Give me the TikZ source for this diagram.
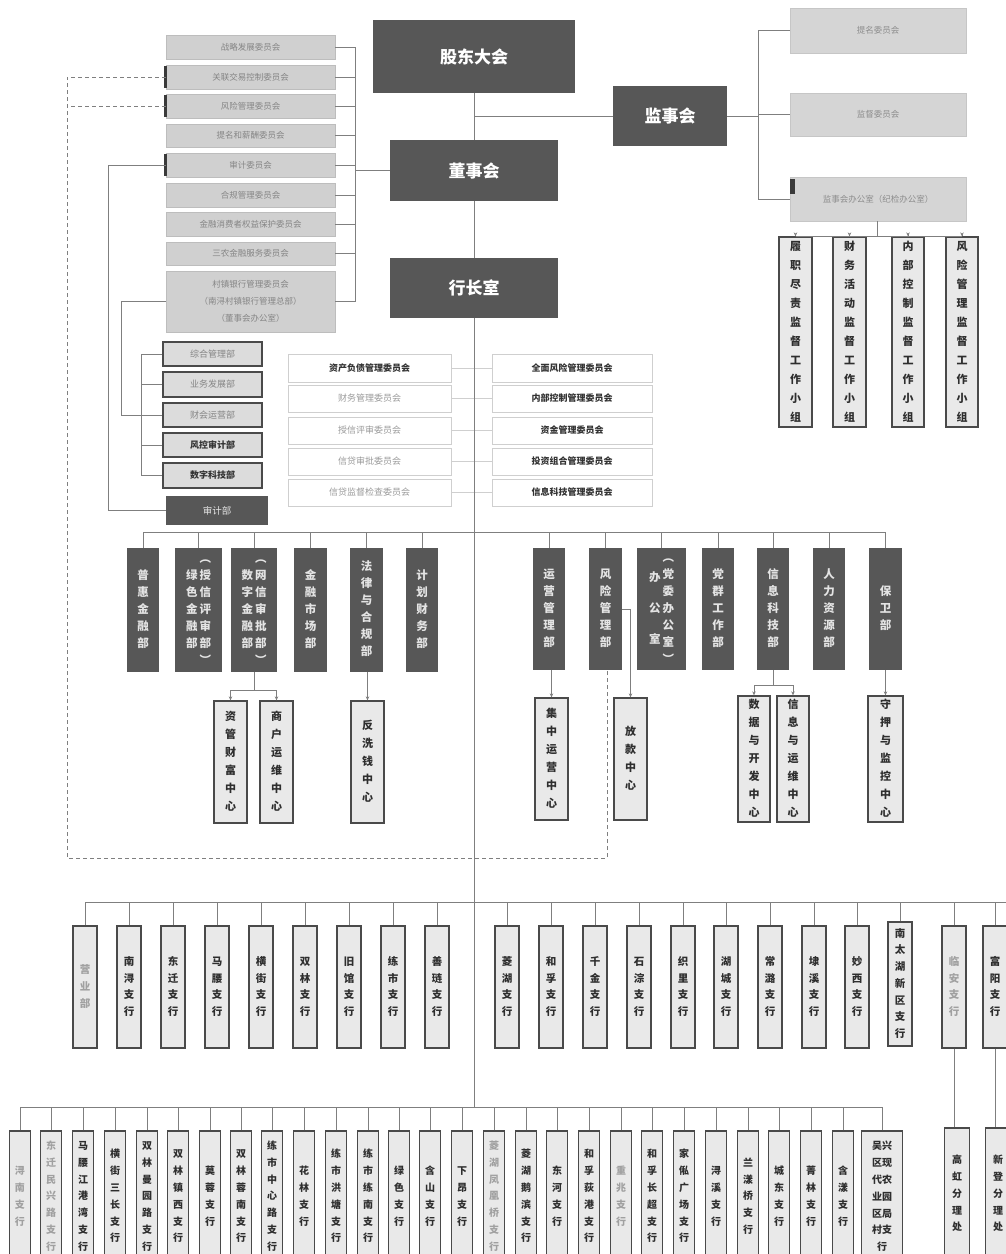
\documentclass[tikz,border=0pt]{standalone}
\usepackage{fontspec}
\setmainfont{Noto Sans CJK SC}
\usetikzlibrary{arrows.meta}
\definecolor{dk}{HTML}{575757}
\definecolor{dpt}{HTML}{E4E4E4}
\definecolor{cmf}{HTML}{D0D0D0}
\definecolor{cmb}{HTML}{BDBDBD}
\definecolor{cmt}{HTML}{858585}
\definecolor{mgf}{HTML}{DCDCDC}
\definecolor{bxb}{HTML}{4A4A4A}
\definecolor{mcb}{HTML}{CFCFCF}
\definecolor{mct}{HTML}{9A9A9A}
\definecolor{mcd}{HTML}{333333}
\definecolor{scf}{HTML}{E9E9E9}
\definecolor{sct}{HTML}{2E2E2E}
\definecolor{fdt}{HTML}{A0A0A0}
\definecolor{lnc}{HTML}{7F7F7F}
\definecolor{mkc}{HTML}{3A3A3A}
\definecolor{tbf}{HTML}{D5D5D5}
\definecolor{tbb}{HTML}{C6C6C6}
\definecolor{tbt}{HTML}{8C8C8C}
\ExplSyntaxOn
\tl_new:N \l_vt_tl
\NewDocumentCommand \vt { m }
 {
  \tl_clear:N \l_vt_tl
  \tl_map_inline:nn {#1}
   {
    \tl_if_empty:NF \l_vt_tl { \tl_put_right:Nn \l_vt_tl { \\ } }
    \tl_put_right:Nn \l_vt_tl { ##1 }
   }
  \begin{tabular}{@{}c@{}} \l_vt_tl \end{tabular}
 }
\ExplSyntaxOff
\newcommand\bx[7][]{\node[#1,minimum width={(#5-#3)*1pt},minimum height={(#6-#4)*1pt}] (#2) at ({(#3+#5)/2},{(#4+#6)/2}) {#7};}
\tikzset{
 conn/.style={draw=lnc, line width=0.8pt},
 arrw/.style={-{Stealth[length=4pt,width=3.5pt]}},
 dashc/.style={draw=lnc, line width=0.8pt, dash pattern=on 4pt off 3pt},
 hbox/.style={fill=dk, draw=none, text=white, font=\fontsize{17}{20}\selectfont\bfseries, inner sep=0pt},
 cbox/.style={fill=cmf, draw=cmb, line width=0.6pt, text=cmt, font=\fontsize{8.5}{17}\selectfont, inner sep=0pt, align=center},
 tbox/.style={fill=tbf, draw=tbb, line width=0.6pt, text=tbt, font=\fontsize{8.5}{10}\selectfont, inner sep=0pt},
 mbox/.style={fill=mgf, draw=bxb, line width=1.2pt, text=cmt, font=\fontsize{9}{11}\selectfont, inner sep=0pt},
 qbox/.style={fill=white, draw=mcb, line width=0.6pt, text=mct, font=\fontsize{9}{11}\selectfont, inner sep=0pt},
 qdark/.style={text=mcd, font=\fontsize{9}{11}\selectfont\bfseries},
 dbox/.style={fill=dk, draw=none, text=dpt, font=\fontsize{11.5}{17}\selectfont\bfseries, inner sep=0pt},
 sbox/.style={fill=scf, draw=bxb, line width=1.3pt, text=sct, font=\fontsize{11}{18}\selectfont\bfseries, inner sep=0pt},
 gbox/.style={sbox, font=\fontsize{11}{19}\selectfont\bfseries},
 brA/.style={sbox, font=\fontsize{10.5}{16.7}\selectfont\bfseries},
 brB/.style={sbox, font=\fontsize{10}{16.8}\selectfont\bfseries},
 faded/.style={text=fdt},
 mkr/.style={fill=mkc, draw=none, inner sep=0pt},
}
\begin{document}
\begin{tikzpicture}[x=1pt,y=-1pt]
\fill[white] (0,0) rectangle (1006,1254);
\useasboundingbox (0,0) rectangle (1006,1254);
% ---------- top ----------
\bx[hbox]{gd}{373}{20}{575}{93}{股东大会}
\bx[hbox]{dsh}{390}{140}{558}{201}{董事会}
\bx[hbox]{hzs}{390}{258}{558}{318}{行长室}
\bx[hbox]{jsh}{613}{86}{727}{146}{监事会}
\coordinate (sp) at (474,0);
\draw[conn] (gd.south) -- (dsh.north);
\draw[conn] (dsh.south) -- (hzs.north);
\draw[conn] (gd.south |- jsh.west) -- (jsh.west);
% ---------- board committees ----------
\bx[cbox]{c1}{166}{35}{335}{59}{战略发展委员会}
\bx[cbox]{c2}{166}{65}{335}{89}{关联交易控制委员会}
\bx[cbox]{c3}{166}{94}{335}{118}{风险管理委员会}
\bx[cbox]{c4}{166}{124}{335}{147}{提名和薪酬委员会}
\bx[cbox]{c5}{166}{153}{335}{177}{审计委员会}
\bx[cbox]{c6}{166}{183}{335}{207}{合规管理委员会}
\bx[cbox]{c7}{166}{212}{335}{236}{金融消费者权益保护委员会}
\bx[cbox]{c8}{166}{242}{335}{265}{三农金融服务委员会}
\bx[cbox]{c9}{166}{271}{335}{332}{村镇银行管理委员会\\（南浔村镇银行管理总部）\\（董事会办公室）}
\node[mkr,minimum width=3pt,minimum height=22pt] (k2) at (c2.west) {};
\node[mkr,minimum width=3pt,minimum height=22pt] (k3) at (c3.west) {};
\node[mkr,minimum width=3pt,minimum height=22pt] (k5) at (c5.west) {};
\coordinate (lb) at (355,0);
\draw[conn] (c1.east) -| (lb |- c9.east) -- (c9.east);
\foreach \n in {c2,c3,c4,c5,c6,c7,c8}{\draw[conn] (\n.east) -- (\n.east -| lb);}
\draw[conn] (dsh.west) -- (dsh.west -| lb);
% ---------- supervisory ----------
\bx[tbox]{tm}{790}{8}{966}{53}{提名委员会}
\bx[tbox]{jd}{790}{93}{966}{136}{监督委员会}
\bx[tbox]{jb}{790}{177}{966}{221}{监事会办公室（纪检办公室）}
\node[mkr,minimum width=5pt,minimum height=15pt] (kj) at (792,186) {};
\coordinate (rb) at (758,0);
\draw[conn] (tm.west) -| (rb |- jb.west) -- (jb.west);
\draw[conn] (jd.west) -- (jd.west -| rb);
\draw[conn] (jsh.east) -- (jsh.east -| rb);
\bx[gbox]{g1}{779}{247}{812}{417}{\vt{履职尽责监督工作小组}}
\bx[gbox]{g2}{833}{247}{866}{417}{\vt{财务活动监督工作小组}}
\bx[gbox]{g3}{892}{247}{924}{417}{\vt{内部控制监督工作小组}}
\bx[gbox]{g4}{946}{247}{978}{417}{\vt{风险管理监督工作小组}}
\coordinate (gy) at (0,236);
\draw[conn] (jb.south -| 877,0) -- (877,236);
\draw[conn] (g1.north |- gy) -- (g4.north |- gy);
\foreach \n in {g1,g2,g3,g4}{\draw[conn,arrw] (\n.north |- gy) -- (\n.north);}
% ---------- management ----------
\bx[mbox]{m1}{163}{342}{262}{366}{综合管理部}
\bx[mbox]{m2}{163}{372}{262}{397}{业务发展部}
\bx[mbox]{m3}{163}{403}{262}{427}{财会运营部}
\bx[mbox,text=mcd,font=\fontsize{9}{11}\selectfont\bfseries]{m4}{163}{433}{262}{457}{风控审计部}
\bx[mbox,text=mcd,font=\fontsize{9}{11}\selectfont\bfseries]{m5}{163}{463}{262}{488}{数字科技部}
\bx[hbox,font=\fontsize{9.5}{11}\selectfont,text=dpt]{sjb}{166}{496}{268}{525}{审计部}
\coordinate (mb) at (141,0);
\draw[conn] (m1.west) -| (mb |- m5.west) -- (m5.west);
\foreach \n in {m2,m3,m4}{\draw[conn] (\n.west) -- (\n.west -| mb);}
\coordinate (cz) at (121,0);
\draw[conn] (c9.west) -| (cz |- m3.west) -- (m3.west);
\coordinate (sjx) at (108,0);
\draw[conn] (c5.west) -| (sjx |- sjb.west) -- (sjb.west);
% ---------- executive committees ----------
\bx[qbox,qdark]{q1}{288}{354}{451}{382}{资产负债管理委员会}
\bx[qbox]{q2}{288}{385}{451}{412}{财务管理委员会}
\bx[qbox]{q3}{288}{417}{451}{444}{授信评审委员会}
\bx[qbox]{q4}{288}{448}{451}{475}{信贷审批委员会}
\bx[qbox]{q5}{288}{479}{451}{506}{信贷监督检查委员会}
\bx[qbox,qdark]{r1}{492}{354}{652}{382}{全面风险管理委员会}
\bx[qbox,qdark]{r2}{492}{385}{652}{412}{内部控制管理委员会}
\bx[qbox,qdark]{r3}{492}{417}{652}{444}{资金管理委员会}
\bx[qbox,qdark]{r4}{492}{448}{652}{475}{投资组合管理委员会}
\bx[qbox,qdark]{r5}{492}{479}{652}{506}{信息科技管理委员会}
\foreach \n in {q1,q2,q3,q4,q5}{\draw[draw=mcb,line width=0.6pt] (\n.east) -- (\n.east -| sp);}
\foreach \n in {r1,r2,r3,r4,r5}{\draw[draw=mcb,line width=0.6pt] (\n.west) -- (\n.west -| sp);}
% ---------- departments ----------
\bx[dbox]{d1}{127}{548}{159}{672}{\vt{普惠金融部}}
\bx[dbox]{d2}{175}{548}{222}{672}{\vt{绿色金融部}\hspace{2pt}\vt{︵授信评审部︶}}
\bx[dbox]{d3}{231}{548}{277}{672}{\vt{数字金融部}\hspace{2pt}\vt{︵网信审批部︶}}
\bx[dbox]{d4}{294}{548}{327}{672}{\vt{金融市场部}}
\bx[dbox]{d5}{350}{548}{383}{672}{\vt{法律与合规部}}
\bx[dbox]{d6}{406}{548}{438}{672}{\vt{计划财务部}}
\bx[dbox]{d7}{533}{548}{565}{670}{\vt{运营管理部}}
\bx[dbox]{d8}{589}{548}{622}{670}{\vt{风险管理部}}
\bx[dbox]{d9}{637}{548}{686}{670}{\begin{tabular}{@{}c@{}}办\\[14pt]公\\[14pt]室\end{tabular}\hspace{2pt}\vt{︵党委办公室︶}}
\bx[dbox]{d10}{702}{548}{734}{670}{\vt{党群工作部}}
\bx[dbox]{d11}{757}{548}{789}{670}{\vt{信息科技部}}
\bx[dbox]{d12}{813}{548}{845}{670}{\vt{人力资源部}}
\bx[dbox]{d13}{869}{548}{902}{670}{\vt{保卫部}}
\coordinate (dy) at (0,532);
\draw[conn] (d1.north |- dy) -- (d13.north |- dy);
\foreach \n in {d1,d2,d3,d4,d5,d6,d7,d8,d9,d10,d11,d12,d13}{\draw[conn] (\n.north |- dy) -- (\n.north);}
\draw[conn] (hzs.south) -- (sp |- 0,1107);
% ---------- centers ----------
\bx[sbox]{s1}{214}{701}{247}{823}{\vt{资管财富中心}}
\bx[sbox]{s2}{260}{701}{293}{823}{\vt{商户运维中心}}
\bx[sbox]{s3}{351}{701}{384}{823}{\vt{反洗钱中心}}
\bx[sbox]{s4}{535}{698}{568}{820}{\vt{集中运营中心}}
\bx[sbox]{s5}{614}{698}{647}{820}{\vt{放款中心}}
\bx[sbox]{s6}{738}{698}{770}{820}{\vt{数据与开发中心}}
\bx[sbox]{s7}{777}{698}{809}{820}{\vt{信息与运维中心}}
\bx[sbox]{s8}{868}{698}{903}{820}{\vt{守押与监控中心}}
\coordinate (ya) at (0,690);
\draw[conn] (d3.south) -- (d3.south |- ya);
\draw[conn] (s1.north |- ya) -- (s2.north |- ya);
\draw[conn,arrw] (s1.north |- ya) -- (s1.north);
\draw[conn,arrw] (s2.north |- ya) -- (s2.north);
\draw[conn,arrw] (s3.north |- d5.south) -- (s3.north);
\draw[conn,arrw] (s4.north |- d7.south) -- (s4.north);
\draw[conn,arrw] (d8.east) -| (s5.north);
\coordinate (yb) at (0,685);
\draw[conn] (d11.south) -- (d11.south |- yb);
\draw[conn] (s6.north |- yb) -- (s7.north |- yb);
\draw[conn,arrw] (s6.north |- yb) -- (s6.north);
\draw[conn,arrw] (s7.north |- yb) -- (s7.north);
\draw[conn,arrw] (s8.north |- d13.south) -- (s8.north);
% ---------- dashed line ----------
\coordinate (dl) at (67,858);
\draw[dashc] (c2.west) -- (c2.west -| dl) -- (dl) -| ([xshift=2pt]d8.south);
\draw[dashc] (c3.west) -- (c3.west -| dl);
% ---------- branches row 1 ----------
\coordinate (ba) at (0,902);
\foreach \cx/\nm/\tx/\st in {85/a1/营业部/faded,129/a2/南浔支行/,173/a3/东迁支行/,217/a4/马腰支行/,261/a5/横街支行/,305/a6/双林支行/,349/a7/旧馆支行/,393/a8/练市支行/,437/a9/善琏支行/,507/a10/菱湖支行/,551/a11/和孚支行/,595/a12/千金支行/,639/a13/石淙支行/,683/a14/织里支行/,726/a15/湖城支行/,770/a16/常潞支行/,814/a17/埭溪支行/,857/a18/妙西支行/,954/a20/临安支行/faded,995/a21/富阳支行/}{
  \node[brA,\st,minimum width=24pt,minimum height=122pt] (\nm) at (\cx,987) {\expandafter\vt\expandafter{\tx}};
  \draw[conn] (\nm.north) -- (\nm.north |- ba);
}
\node[brA,minimum width=24pt,minimum height=124pt] (a19) at (900,984) {\vt{南太湖新区支行}};
\draw[conn] (a19.north) -- (a19.north |- ba);
\draw[conn] (a1.north |- ba) -- ([xshift=12pt]a21.north |- ba);
% ---------- branches row 2 ----------
\coordinate (bb) at (0,1107);
\foreach \cx/\nm/\tx/\st in {20/b1/浔南支行/faded,51/b2/东迁民兴路支行/faded,83/b3/马腰江港湾支行/,115/b4/横街三长支行/,147/b5/双林曼园路支行/,178/b6/双林镇西支行/,210/b7/莫蓉支行/,241/b8/双林蓉南支行/,272/b9/练市中心路支行/,304/b10/花林支行/,336/b11/练市洪塘支行/,368/b12/练市练南支行/,399/b13/绿色支行/,430/b14/含山支行/,462/b15/下昂支行/,494/b16/菱湖凤凰桥支行/faded,526/b17/菱湖鹅滨支行/,557/b18/东河支行/,589/b19/和孚荻港支行/,621/b20/重兆支行/faded,652/b21/和孚长超支行/,684/b22/家俬广场支行/,716/b23/浔溪支行/,748/b24/兰漾桥支行/,779/b25/城东支行/,811/b26/菁林支行/,843/b27/含漾支行/}{
  \node[brB,\st,minimum width=21pt,minimum height=131pt] (\nm) at (\cx,1196.5) {\expandafter\vt\expandafter{\tx}};
  \draw[conn] (\nm.north) -- (\nm.north |- bb);
}
\node[brB,minimum width=41pt,minimum height=131pt,align=center] (b28) at (882,1196.5) {吴兴\\区现\\代农\\业园\\区局\\村支\\行};
\draw[conn] (b28.north) -- (b28.north |- bb);
\draw[conn] (b1.north |- bb) -- (b28.north |- bb);
% ---------- sub-branches ----------
\node[brB,minimum width=25pt,minimum height=132pt] (h1) at (957,1194) {\vt{高虹分理处}};
\node[brB,minimum width=25pt,minimum height=132pt] (h2) at (998,1194) {\vt{新登分理处}};
\draw[conn] (a20.south) -- (a20.south |- h1.north);
\draw[conn] (a21.south) -- (a21.south |- h2.north);
\end{tikzpicture}
\end{document}
